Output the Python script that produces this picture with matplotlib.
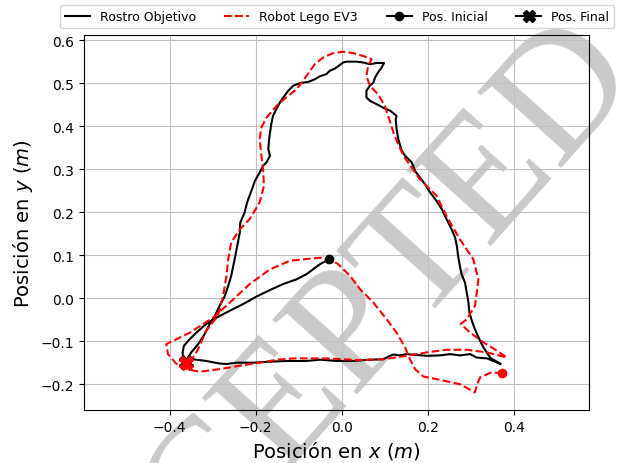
import matplotlib
matplotlib.use("Agg")
import matplotlib.pyplot as plt
from matplotlib.lines import Line2D
import numpy as np

# Rostro Objetivo (target face) trajectory
face_x = [-0.031, -0.051, -0.067, -0.082, -0.105, -0.136, -0.167, -0.198, -0.230, -0.260,
          -0.291, -0.315, -0.338, -0.357, -0.367, -0.370, -0.369, -0.362,
          -0.346, -0.315, -0.284, -0.268, -0.245, -0.206, -0.175, -0.129, -0.082, -0.051,
          -0.012, 0.026, 0.065, 0.096, 0.112, 0.119, 0.135, 0.150, 0.174, 0.197, 0.228,
          0.251, 0.274, 0.298, 0.313, 0.337, 0.352, 0.369,
          0.345, 0.329, 0.321, 0.309, 0.302, 0.296, 0.294, 0.290, 0.286, 0.278, 0.274,
          0.270, 0.267, 0.263, 0.255, 0.243, 0.232, 0.220, 0.205, 0.193, 0.181, 0.170,
          0.162, 0.147, 0.139, 0.131, 0.127, 0.125, 0.127, 0.112, 0.096, 0.081, 0.065,
          0.057, 0.057, 0.065, 0.073, 0.077, 0.084, 0.092, 0.098,
          0.081, 0.065, 0.050, 0.034, 0.011, 0.003, -0.005, -0.016, -0.028, -0.036,
          -0.051, -0.063, -0.078, -0.098, -0.113, -0.125, -0.136, -0.144, -0.152, -0.160,
          -0.164, -0.167, -0.169, -0.171, -0.167, -0.175, -0.183, -0.191, -0.202, -0.210,
          -0.220, -0.226, -0.236, -0.237, -0.243, -0.249, -0.257, -0.264, -0.272, -0.284,
          -0.295, -0.307, -0.319, -0.334, -0.350, -0.357, -0.361]
face_y = [0.090, 0.079, 0.067, 0.056, 0.044, 0.033, 0.019, 0.004, -0.014, -0.029,
          -0.045, -0.060, -0.080, -0.099, -0.111, -0.126, -0.136, -0.141,
          -0.142, -0.146, -0.152, -0.153, -0.150, -0.150, -0.148, -0.146, -0.146, -0.143,
          -0.146, -0.146, -0.143, -0.142, -0.134, -0.131, -0.133, -0.130, -0.132, -0.134, -0.133,
          -0.130, -0.133, -0.130, -0.138, -0.140, -0.146, -0.153,
          -0.139, -0.115, -0.099, -0.072, -0.053, -0.033, -0.010, 0.013, 0.036, 0.056, 0.075,
          0.098, 0.122, 0.141, 0.160, 0.184, 0.207, 0.226, 0.246, 0.265, 0.281, 0.296,
          0.316, 0.331, 0.343, 0.370, 0.393, 0.416, 0.424, 0.436, 0.443, 0.451, 0.459,
          0.467, 0.482, 0.494, 0.501, 0.513, 0.525, 0.536, 0.547,
          0.547, 0.544, 0.548, 0.550, 0.550, 0.548, 0.542, 0.534, 0.529, 0.521,
          0.516, 0.509, 0.503, 0.500, 0.494, 0.482, 0.467, 0.455, 0.440, 0.424,
          0.405, 0.385, 0.370, 0.347, 0.331, 0.316, 0.308, 0.292, 0.273, 0.250,
          0.223, 0.199, 0.176, 0.153, 0.122, 0.091, 0.052, 0.029, 0.005, -0.018,
          -0.041, -0.060, -0.084, -0.107, -0.126, -0.138, -0.149]

# Robot Lego EV3 trajectory
robot_x = [0.373, 0.344, 0.321, 0.313, 0.309, 0.274, 0.228, 0.189, 0.170, 0.158, 0.147,
           0.127, 0.104, 0.073, 0.042, 0.019, -0.010, -0.028, -0.050, -0.074, -0.121,
           -0.167, -0.214, -0.260, -0.299, -0.353, -0.408, -0.404, -0.384, -0.361, -0.330,
           -0.284, -0.237, -0.191, -0.150, -0.113, -0.036, 0.042, 0.096, 0.150, 0.197,
           0.243, 0.290, 0.337, 0.383,
           0.360, 0.329, 0.298, 0.276, 0.290, 0.309, 0.313, 0.317, 0.305, 0.274, 0.243,
           0.220, 0.181, 0.143, 0.122, 0.110, 0.100, 0.084, 0.065, 0.057, 0.061, 0.069,
           0.050, 0.026, 0.003, -0.020, -0.043, -0.063, -0.082, -0.105, -0.129, -0.152,
           -0.175, -0.187, -0.191, -0.187, -0.183, -0.181, -0.191, -0.214, -0.237, -0.257,
           -0.264, -0.268, -0.276, -0.288, -0.316, -0.329, -0.339, -0.352, -0.361]
robot_y = [-0.173, -0.174, -0.184, -0.204, -0.219, -0.200, -0.190, -0.182, -0.165, -0.142, -0.115,
           -0.080, -0.049, -0.010, 0.021, 0.052, 0.080, 0.091, 0.094, 0.092, 0.087,
           0.067, 0.033, -0.010, -0.045, -0.080, -0.107, -0.130, -0.153, -0.165, -0.171,
           -0.165, -0.157, -0.150, -0.143, -0.140, -0.140, -0.144, -0.142, -0.134, -0.126,
           -0.120, -0.120, -0.126, -0.138,
           -0.122, -0.103, -0.080, -0.060, -0.049, -0.018, 0.010, 0.044, 0.091, 0.137, 0.191,
           0.238, 0.277, 0.331, 0.378, 0.416, 0.447, 0.474, 0.494, 0.517, 0.540, 0.556,
           0.563, 0.570, 0.573, 0.570, 0.560, 0.544, 0.517, 0.486, 0.467, 0.447,
           0.420, 0.397, 0.370, 0.331, 0.300, 0.261, 0.223, 0.184, 0.160, 0.130,
           0.091, 0.052, 0.005, -0.041, -0.077, -0.108, -0.128, -0.147, -0.151]

x_ticks = [-0.4, -0.2, 0.0, 0.2, 0.4]
y_ticks = [-0.2, -0.1, 0.0, 0.1, 0.2, 0.3, 0.4, 0.5, 0.6]

fig = plt.figure(figsize=(6.19, 4.64), dpi=100)
ax = fig.add_axes([84 / 619, 53 / 464, 505 / 619, 375 / 464])

ax.plot(face_x, face_y, color="black", lw=1.5, zorder=3)
ax.plot(robot_x, robot_y, color="red", lw=1.5, ls="--", zorder=3)
ax.plot(face_x[0], face_y[0], "o", color="black", ms=6, zorder=4)
ax.plot(robot_x[0], robot_y[0], "o", color="red", ms=6, zorder=4)
ax.plot(face_x[-1], face_y[-1], "X", color="black", ms=10, zorder=4)
ax.plot(robot_x[-1], robot_y[-1], "X", color="red", ms=10, zorder=5)

ax.set_xlim(-0.599, 0.574)
ax.set_ylim(-0.26, 0.612)
ax.set_xticks(x_ticks)
ax.set_yticks(y_ticks)
ax.grid(True, color="#c0c0c0")
ax.set_xlabel("Posición en $x$ ($m$)", fontsize=14)
ax.set_ylabel("Posición en $y$ ($m$)", fontsize=14)

handles = [Line2D([], [], color="black", lw=1.5),
           Line2D([], [], color="red", lw=1.5, ls="--"),
           Line2D([], [], color="black", lw=1.5, marker="o", ms=6),
           Line2D([], [], color="black", lw=1.5, marker="X", ms=9)]
labels = ["Rostro Objetivo", "Robot Lego EV3", "Pos. Inicial", "Pos. Final"]
fig.legend(handles, labels, loc="upper center", ncol=4, fontsize=9,
           columnspacing=2.3, bbox_to_anchor=(337 / 619, 0.995), borderaxespad=0.3)

# watermark
ax.text(313 / 619, 1 - 380 / 464, "ACCEPTED", transform=fig.transFigure,
        fontsize=124, family="Liberation Serif", color="#cacaca",
        rotation=48, ha="center", va="center", zorder=0.1, clip_on=False)

fig.savefig("out.png", dpi=100)
